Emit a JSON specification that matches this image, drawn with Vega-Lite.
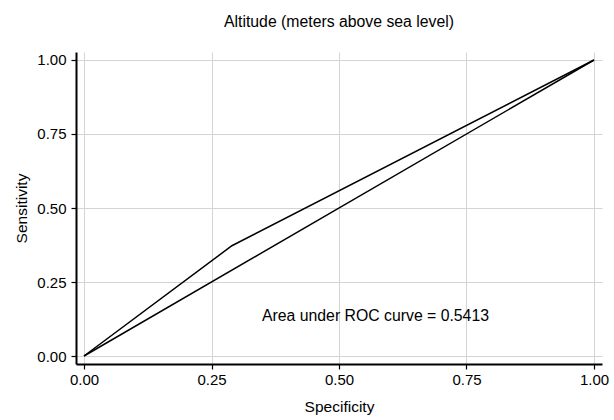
{
  "$schema": "https://vega.github.io/schema/vega-lite/v6.json",
  "autosize": "none",
  "width": 526,
  "height": 312,
  "padding": {"left": 76, "top": 52, "right": 12, "bottom": 56},
  "background": "white",
  "title": {"text": "Altitude (meters above sea level)", "font": "Liberation Sans", "fontSize": 15.8, "fontWeight": "normal", "color": "#000000", "offset": 21},
  "config": {
    "view": {"stroke": null},
    "axis": {"domain": true, "ticks": true, "labelFont": "Liberation Sans", "titleFont": "Liberation Sans", "labelFontSize": 15, "titleFontSize": 15.5, "titleFontWeight": "normal", "labelColor": "#000", "titleColor": "#000", "domainColor": "#000000", "domainOpacity": 1, "tickColor": "#000", "gridColor": "#d4d4d4", "gridWidth": 1, "domainWidth": 2, "tickWidth": 1.2, "tickSize": 5}
  },
  "datasets": {
    "roc": [
      {"series": "curve", "fpr": 0, "tpr": 0},
      {"series": "curve", "fpr": 0.29, "tpr": 0.3726},
      {"series": "curve", "fpr": 1, "tpr": 1},
      {"series": "ref", "fpr": 0, "tpr": 0},
      {"series": "ref", "fpr": 1, "tpr": 1}
    ],
    "note": [{"fpr": 0.349, "tpr": 0.135, "label": "Area under ROC curve = 0.5413"}]
  },
  "layer": [
    {
      "data": {"name": "roc"},
      "mark": {"type": "line", "color": "#000", "strokeWidth": 1.5},
      "encoding": {
        "x": {"field": "fpr", "type": "quantitative", "title": "Specificity",
          "scale": {"domain": [-0.0157, 1.0157], "nice": false, "zero": false},
          "axis": {"values": [0, 0.25, 0.5, 0.75, 1], "format": ".2f", "labelPadding": 3, "titlePadding": 12}},
        "y": {"field": "tpr", "type": "quantitative", "title": "Sensitivity",
          "scale": {"domain": [-0.027, 1.027], "nice": false, "zero": false},
          "axis": {"values": [0, 0.25, 0.5, 0.75, 1], "format": ".2f", "labelPadding": 5, "titlePadding": 7}},
        "detail": {"field": "series"},
        "order": {"field": "fpr"}
      }
    },
    {
      "data": {"name": "note"},
      "mark": {"type": "text", "align": "left", "baseline": "middle", "font": "Liberation Sans", "fontSize": 15.8, "color": "#000"},
      "encoding": {
        "x": {"field": "fpr", "type": "quantitative"},
        "y": {"field": "tpr", "type": "quantitative"},
        "text": {"field": "label"}
      }
    }
  ]
}
